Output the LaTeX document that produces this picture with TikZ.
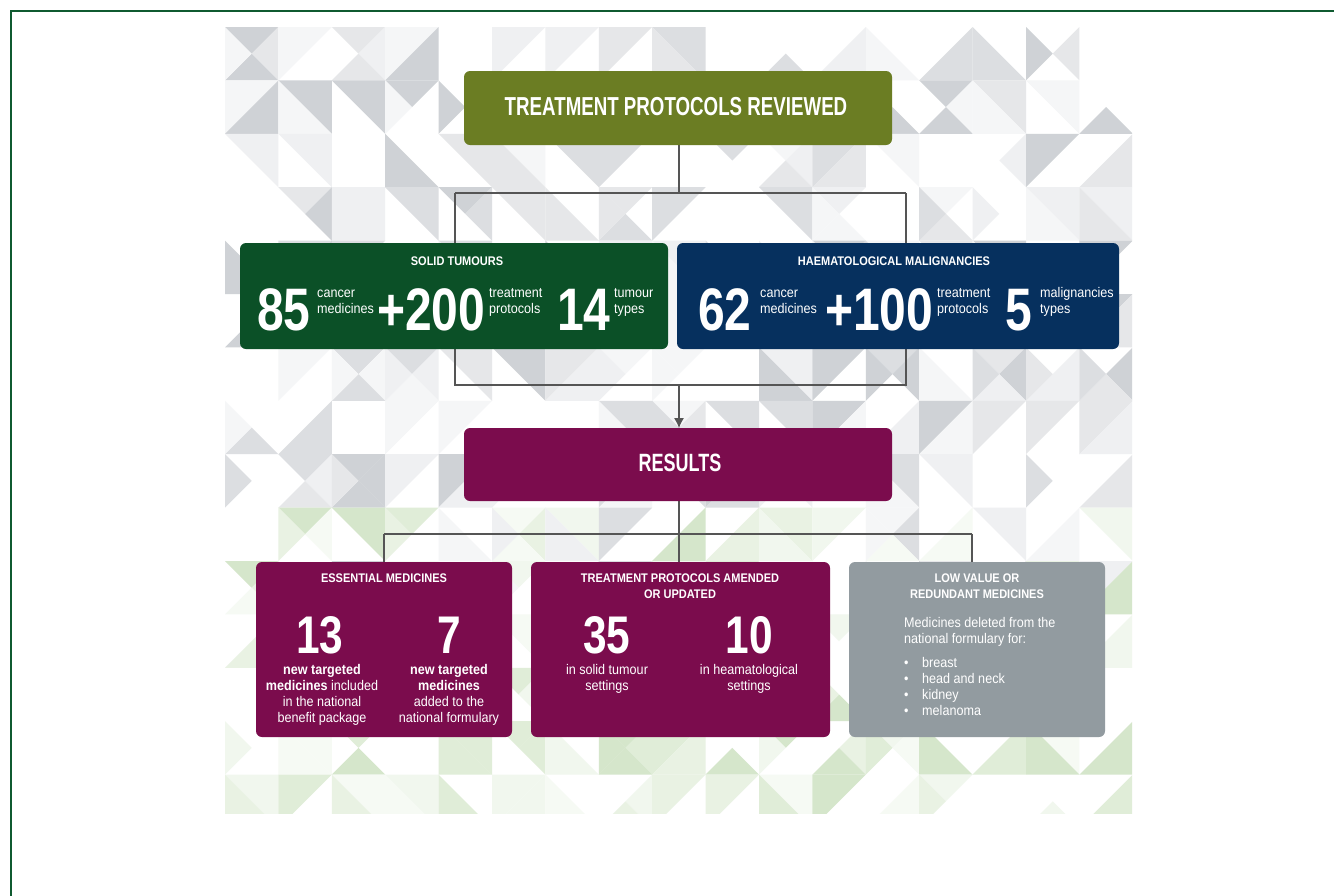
\documentclass[tikz,border=0pt]{standalone}
\usepackage{fontspec}
\setmainfont{Liberation Sans}
\newfontfamily\condT{Liberation Sans}[FakeStretch=0.72]
\newfontfamily\condN{Liberation Sans}[FakeStretch=0.8]
\newfontfamily\condS{Liberation Sans}[FakeStretch=0.88]
\newfontfamily\condL{Liberation Sans}[FakeStretch=0.9]
\usetikzlibrary{arrows.meta}
\definecolor{olivebox}{HTML}{6B7D23}
\definecolor{greenbox}{HTML}{0B5027}
\definecolor{navybox}{HTML}{06305E}
\definecolor{plumbox}{HTML}{7B0C4D}
\definecolor{greybox}{HTML}{929BA0}
\definecolor{framegreen}{HTML}{0F5A30}
\definecolor{connc}{HTML}{555555}
\definecolor{g3}{HTML}{CFD2D6}
\definecolor{g4}{HTML}{DCDEE1}
\definecolor{g5}{HTML}{E6E7E9}
\definecolor{g6}{HTML}{EFF0F2}
\definecolor{g7}{HTML}{F5F6F7}
\definecolor{n3}{HTML}{D5E6CB}
\definecolor{n4}{HTML}{E0EDD8}
\definecolor{n5}{HTML}{E9F2E3}
\definecolor{n6}{HTML}{F1F7EE}
\definecolor{n7}{HTML}{F6FAF4}
\tikzset{
  box/.style={rounded corners=6pt, inner sep=0pt},
  txt/.style={text=white, inner sep=0pt},
  conn/.style={draw=connc, line width=1.1pt},
  bignum/.style={txt, font=\condN\bfseries\fontsize{60}{60}\selectfont, anchor=base west},
  midnum/.style={txt, font=\condN\bfseries\fontsize{53}{53}\selectfont, anchor=base, text depth=0pt, text height=38pt},
  small/.style={txt, font=\condL\fontsize{14}{16}\selectfont},
  headS/.style={txt, font=\condS\bfseries\fontsize{12.5}{16}\selectfont, align=center},
  headT/.style={txt, font=\condT\bfseries\fontsize{26}{26}\selectfont},
}
\begin{document}
\begin{tikzpicture}[x=1pt,y=-1pt]
\useasboundingbox (0,0) rectangle (1334,895);
\fill[white] (0,0) rectangle (1334,895);
% background triangle pattern
\begin{scope}
\clip (225,27) rectangle (1132,813);
\pgfmathsetseed{11}
\foreach \i in {0,...,16}{
 \foreach \j in {0,...,14}{
  \pgfmathsetmacro\xa{225+53.4*\i}
  \pgfmathsetmacro\ya{27+53.4*\j}
  \pgfmathsetmacro\xb{\xa+53.4}
  \pgfmathsetmacro\yb{\ya+53.4}
  \pgfmathsetmacro\xc{\xa+26.7}
  \pgfmathsetmacro\yc{\ya+26.7}
  \pgfmathtruncatemacro\mode{random(0,2)}
  \foreach \k in {0,...,3}{
   \pgfmathtruncatemacro\c{random(0,8)}
   \pgfmathtruncatemacro\gr{(\j>12) || ((\j>8) && (random(0,2)>0))}
   \ifnum\c>2 \ifnum\c<8
    \ifnum\gr=1 \def\col{n\c}\else\def\col{g\c}\fi
    \ifcase\mode
      \ifcase\k
        \fill[\col] (\xa,\ya) -- (\xb,\ya) -- (\xc,\yc) -- cycle;
      \or \fill[\col] (\xb,\ya) -- (\xb,\yb) -- (\xc,\yc) -- cycle;
      \or \fill[\col] (\xb,\yb) -- (\xa,\yb) -- (\xc,\yc) -- cycle;
      \or \fill[\col] (\xa,\yb) -- (\xa,\ya) -- (\xc,\yc) -- cycle;
      \fi
    \or
      \ifcase\k
        \fill[\col] (\xa,\ya) -- (\xb,\ya) -- (\xb,\yb) -- cycle;
      \or \fill[\col] (\xa,\ya) -- (\xa,\yb) -- (\xb,\yb) -- cycle;
      \fi
    \or
      \ifcase\k
        \fill[\col] (\xa,\ya) -- (\xb,\ya) -- (\xa,\yb) -- cycle;
      \or \fill[\col] (\xb,\ya) -- (\xb,\yb) -- (\xa,\yb) -- cycle;
      \fi
    \fi
   \fi\fi
  }
 }
}
\end{scope}
% frame
\draw[framegreen, line width=2.5pt] (11,896) -- (11,11) -- (1336,11);
% connector points
\coordinate (jT) at (679,193);
\coordinate (jL) at (455,193);
\coordinate (jR) at (906,193);
\coordinate (bL) at (455,385);
\coordinate (bR) at (906,385);
\coordinate (bM) at (679,385);
\coordinate (kM) at (679,534);
\coordinate (kL) at (384,534);
\coordinate (kR) at (972,534);
\coordinate (tS) at (679,140);
\coordinate (rS) at (679,495);
\coordinate (rN) at (679,428);
% connectors (behind boxes)
\draw[conn] (tS) -- (jT);
\draw[conn] (jL) -- (jR);
\draw[conn] (jL) -- (bL) -- (bR) -- (jR);
\draw[conn, -{Latex[length=10pt,width=10pt]}] (bM) -- (rN);
\draw[conn] (rS) -- (kM);
\draw[conn] (kL) -- (kR);
\draw[conn] (kL) -- (kL |- 0,570);
\draw[conn] (kM) -- (kM |- 0,570);
\draw[conn] (kR) -- (kR |- 0,570);
% boxes
\node[box, fill=olivebox, minimum width=428pt, minimum height=74pt] (top) at (678,108) {};
\node[box, fill=greenbox, minimum width=428pt, minimum height=106pt] (solid) at (454,296) {};
\node[box, fill=navybox, minimum width=442pt, minimum height=106pt] (haem) at (898,296) {};
\node[box, fill=plumbox, minimum width=428pt, minimum height=73pt] (results) at (678,464.5) {};
\node[box, fill=plumbox, minimum width=256pt, minimum height=175pt] (ess) at (384,649.5) {};
\node[box, fill=plumbox, minimum width=299pt, minimum height=175pt] (prot) at (680.5,649.5) {};
\node[box, fill=greybox, minimum width=256pt, minimum height=175pt] (low) at (977,649.5) {};
% headings
\node[headT] (topT) at (676,107) {TREATMENT PROTOCOLS REVIEWED};
\node[headT, font=\condT\bfseries\fontsize{25}{25}\selectfont] (resT) at (680,463) {RESULTS};
\node[headS] (solidT) at (457,261) {SOLID TUMOURS};
\node[headS] (haemT) at (894,261) {HAEMATOLOGICAL MALIGNANCIES};
\node[headS] (essT) at (384,578) {ESSENTIAL MEDICINES};
\node[headS] (protT) at (680,586) {TREATMENT PROTOCOLS AMENDED\\OR UPDATED};
\node[headS] (lowT) at (977,586) {LOW VALUE OR\\REDUNDANT MEDICINES};
% solid tumours row
\node[bignum] (n85) at (257,330) {85};
\node[small, align=left, anchor=west] (s85) at (317,302) {cancer\\medicines};
\node[bignum] (n200) at (377,330) {+200};
\node[small, align=left, anchor=west] (s200) at (489,302) {treatment\\protocols};
\node[bignum] (n14) at (557,330) {14};
\node[small, align=left, anchor=west] (s14) at (614,302) {tumour\\types};
% haematological row
\node[bignum] (n62) at (698,330) {62};
\node[small, align=left, anchor=west] (s62) at (760,302) {cancer\\medicines};
\node[bignum] (n100) at (825,330) {+100};
\node[small, align=left, anchor=west] (s100) at (937,302) {treatment\\protocols};
\node[bignum] (n5) at (1005,330) {5};
\node[small, align=left, anchor=west] (s5) at (1040,302) {malignancies\\types};
% essential medicines
\node[midnum] (n13) at (320,653) {13};
\node[small, align=center] (s13) at (322,695) {\textbf{new targeted}\\\textbf{medicines} included\\in the national\\benefit package};
\node[midnum] (n7) at (449,653) {7};
\node[small, align=center] (s7) at (449,695) {\textbf{new targeted}\\\textbf{medicines}\\added to the\\national formulary};
% protocols amended
\node[midnum] (n35) at (607,653) {35};
\node[small, align=center] (s35) at (607,679) {in solid tumour\\settings};
\node[midnum] (n10) at (749,653) {10};
\node[small, align=center] (s10) at (749,679) {in heamatological\\settings};
% low value
\node[small, align=left, anchor=west] (lowA) at (904,632) {Medicines deleted from the\\national formulary for:};
\node[small, align=left, anchor=west] (lowB) at (904,686) {\makebox[18pt][l]{\textbullet}breast\\\makebox[18pt][l]{\textbullet}head and neck\\\makebox[18pt][l]{\textbullet}kidney\\\makebox[18pt][l]{\textbullet}melanoma};
\end{tikzpicture}
\end{document}
